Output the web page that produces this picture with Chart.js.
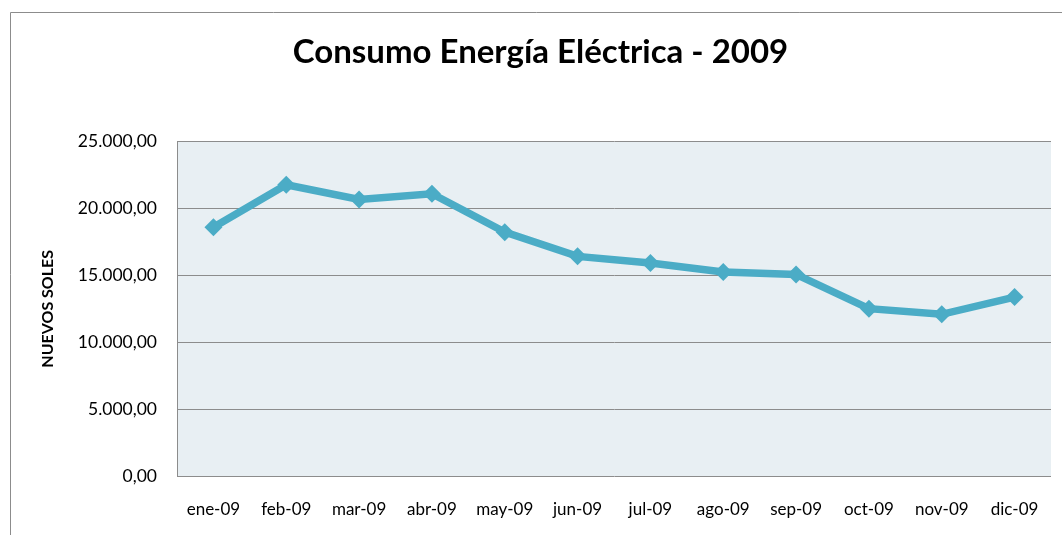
<!DOCTYPE html>
<html>
<head>
<meta charset="utf-8">
<script src="https://cdn.jsdelivr.net/npm/chart.js@4.4.1/dist/chart.umd.min.js"></script>
<style>
    html, body { margin: 0; padding: 0; background: #fff; }
    #wrap { position: relative; width: 1062px; height: 535px; }
</style>
</head>
<body>
<div id="wrap"><canvas id="CHART" width="1062" height="535"></canvas></div>
<script>
"use strict"

const months = ["ene-09", "feb-09", "mar-09", "abr-09", "may-09", "jun-09",
    "jul-09", "ago-09", "sep-09", "oct-09", "nov-09", "dic-09"]
const consumo = [18600, 21770, 20670, 21100, 18230, 16420,
    15920, 15250, 15070, 12510, 12090, 13380]
const yTicks = [0, 5000, 10000, 15000, 20000, 25000]

const FONT = "Lato, 'Open Sans', sans-serif"

function fmt(v) {
    // 25000 -> 25.000,00
    const s = Math.round(v).toString().replace(/\B(?=(\d{3})+(?!\d))/g, ".")
    return s + ",00"
}

const frame = {
    id: "frame",
    beforeDraw(chart) {
        const { ctx, chartArea: a } = chart
        ctx.save()
        ctx.fillStyle = "#e8eff3"
        ctx.fillRect(a.left, a.top, a.right - a.left, a.bottom - a.top)
        ctx.strokeStyle = "#8c8c8c"
        ctx.lineWidth = 1
        ctx.beginPath()
        ctx.moveTo(10.5, 600)
        ctx.lineTo(10.5, 12.5)
        ctx.lineTo(1100, 12.5)
        ctx.stroke()
        ctx.restore()
    }
}

new Chart(CHART, {
    type: "line",
    data: {
        labels: months,
        datasets: [{
            data: consumo,
            borderColor: "#4bacc6",
            backgroundColor: "#4bacc6",
            borderWidth: 7.5,
            pointStyle: "rectRot",
            pointRadius: 9,
            pointBorderWidth: 0,
            tension: 0,
        }]
    },
    options: {
        animation: false,
        responsive: false,
        maintainAspectRatio: false,
        layout: { padding: { left: 30, right: 11, top: 0, bottom: 0 } },
        plugins: {
            legend: { display: false },
            tooltip: { enabled: false },
            title: {
                display: true,
                text: "Consumo Energía Eléctrica - 2009",
                color: "#000",
                font: { family: FONT, size: 33, weight: "bold" },
                padding: { top: 33, bottom: 69 },
            },
        },
        scales: {
            x: {
                offset: true,
                grid: { display: false, drawTicks: false },
                border: { display: false },
                ticks: {
                    color: "#000",
                    font: { family: FONT, size: 17 },
                    padding: 23,
                    maxRotation: 0,
                    autoSkip: false,
                },
                afterFit: s => { s.height = 59 },
            },
            y: {
                min: 0,
                max: 25000,
                afterBuildTicks: axis => { axis.ticks = yTicks.map(v => ({ value: v })) },
                grid: { color: "#8c8c8c", drawTicks: false, lineWidth: 1 },
                border: { display: true, color: "#8c8c8c" },
                ticks: {
                    color: "#000",
                    font: { family: FONT, size: 17.5 },
                    padding: 20,
                    callback: v => fmt(v),
                },
                title: {
                    display: true,
                    text: "NUEVOS SOLES",
                    color: "#000",
                    font: { family: FONT, size: 16, weight: "bold" },
                    padding: { top: 8, bottom: 0 },
                },
                afterFit: s => { s.width = 147 },
            },
        },
    },
    plugins: [frame],
})
</script>
</body>
</html>
